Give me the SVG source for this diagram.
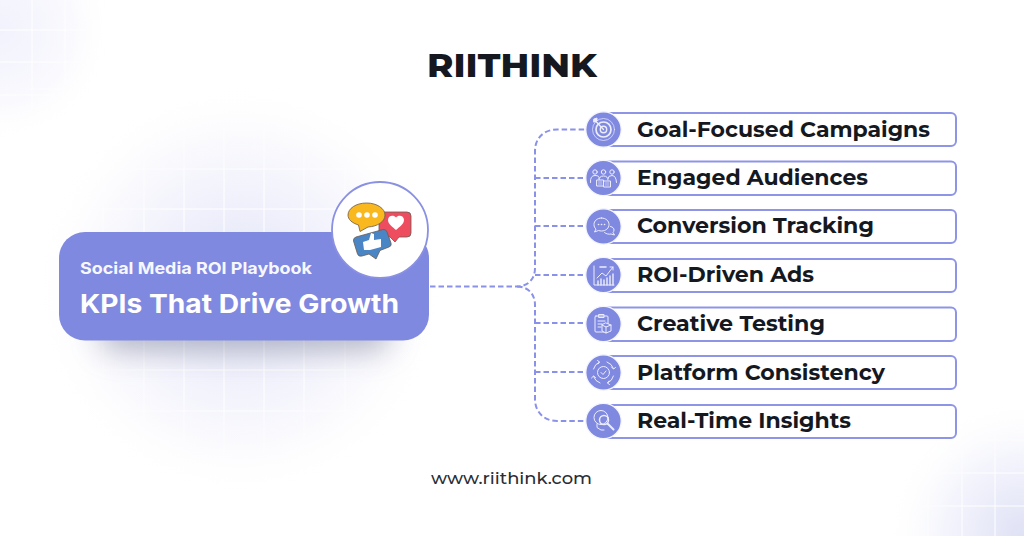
<svg xmlns="http://www.w3.org/2000/svg" width="1024" height="536" viewBox="0 0 1024 536">
<style>
.lbl{font-family:"Montserrat","Inter","Liberation Sans",sans-serif;font-weight:700;font-size:22px;fill:#15191f}
.pill{fill:#fff;stroke:#8f95e6;stroke-width:2}
.disc{fill:#8089e0;stroke:#f4f5fd;stroke-width:1.2}
.ic{fill:none;stroke:#fff;stroke-width:1;stroke-linecap:round;stroke-linejoin:round;opacity:.85}
.dash{fill:none;stroke:#8a91e8;stroke-width:2;stroke-dasharray:5.500 3}
.grid{stroke:#fff;stroke-width:1;fill:none}
</style>
<defs>
<radialGradient id="g1"><stop offset="0" stop-color="#e2e4f6"/><stop offset=".4" stop-color="#eff0fb"/><stop offset=".75" stop-color="#fbfbfe"/><stop offset="1" stop-color="#fff" stop-opacity="0"/></radialGradient>
<radialGradient id="g2"><stop offset="0" stop-color="#f1f2fc"/><stop offset=".6" stop-color="#f9f9fe"/><stop offset="1" stop-color="#fff" stop-opacity="0"/></radialGradient>
<radialGradient id="g3"><stop offset="0" stop-color="#dfe1f5"/><stop offset=".55" stop-color="#f3f4fc"/><stop offset="1" stop-color="#fff" stop-opacity="0"/></radialGradient>
<radialGradient id="fade"><stop offset="0" stop-color="#fff"/><stop offset=".55" stop-color="#fff"/><stop offset="1" stop-color="#000"/></radialGradient>
<mask id="gm" maskUnits="userSpaceOnUse" x="0" y="0" width="1024" height="536"><circle cx="240" cy="290" r="205" fill="url(#fade)"/><circle cx="1024" cy="536" r="130" fill="url(#fade)"/><circle cx="0" cy="30" r="110" fill="url(#fade)"/></mask>
<filter id="sh" x="-20%" y="-80%" width="140%" height="260%"><feGaussianBlur stdDeviation="15"/></filter>
</defs>
<rect width="1024" height="536" fill="#fff"/>
<circle cx="0" cy="30" r="115" fill="url(#g2)"/>
<circle cx="1024" cy="536" r="140" fill="url(#g3)"/>
<circle cx="240" cy="290" r="210" fill="url(#g1)"/>
<g class="grid" mask="url(#gm)">
<path d="M63 90V500M103 90V500M144 90V500M184 90V500M224 90V500M264 90V500M304 90V500M345 90V500M385 90V500M425 90V500"/>
<path d="M30 89H460M30 129H460M30 169H460M30 209H460M30 370H460M30 411H460M30 451H460M30 491H460"/>
<path d="M928 400V536M962 400V536M995 400V536M880 440H1024M880 473H1024M880 506H1024"/>
<path d="M32 0V130M65 0V130M0 62H110M0 95H110M0 30H110"/>
</g>
<rect x="100" y="310" width="290" height="40" rx="16" fill="#70748f" opacity=".5" filter="url(#sh)"/>

<g id="connectors">
<path class="dash" d="M430 286.500H517C528 286.500 535 279 535 268V151C535 138 544 129.500 557 129.500H586"/>
<path class="dash" d="M517 286.500C528 286.500 535 294 535 305V399C535 412 544 421 557 421H586"/>
<path class="dash" d="M535 178H586M535 226H586M535 275H586M535 323H586M535 372H586"/>
</g>

<g id="hub">
<rect x="59" y="232" width="370" height="108.500" rx="26" fill="#8089e0"/>
<text x="80" y="274" font-family="Inter,'Liberation Sans',sans-serif" font-weight="700" font-size="16.500" fill="#f7f8ff" textLength="232" lengthAdjust="spacingAndGlyphs">Social Media ROI Playbook</text>
<text x="80" y="312.500" font-family="Inter,'Liberation Sans',sans-serif" font-weight="700" font-size="26" fill="#fff" textLength="319" lengthAdjust="spacingAndGlyphs">KPIs That Drive Growth</text>
<circle cx="380" cy="230" r="48" fill="#fff" stroke="#8a90e2" stroke-width="1.800"/>
<g stroke="#6b5a50" stroke-width=".8" stroke-linejoin="round">
<path d="M382 212H407Q411 212 411 216V233Q411 237 407 237H399L395 242L390 237H383Q379 237 379 233V216Q379 212 382 212Z" fill="#ee4d60"/>
<path d="M396 217.500c-2-3-8-2.500-8 2.500 0 4.500 5 7 8 10 3-3 8-5.500 8-10 0-5-6-5.500-8-2.500z" fill="#fff" stroke="none"/>
<path d="M366.500 203C377 203 385 208.500 385 215C385 222 377 226.500 368 227L360 231.500L358.500 225C352 223 348 219.500 348 215C348 208.500 356 203 366.500 203Z" fill="#f9b81e"/>
<path d="M356 237L383 229.500Q386 229 387 232L391 243Q392 246 389 247L380 250.500L376 259L369 254L362 256Q358.500 257 357.500 254L353.500 241Q353 238 356 237Z" fill="#4a86c5"/>
</g>
<circle cx="359" cy="215" r="2.800" fill="#fff"/><circle cx="367" cy="215" r="2.800" fill="#fff"/><circle cx="375" cy="215" r="2.800" fill="#fff"/>
<path d="M364 250L363 242L369 240L371 233L374 234L374 240L381 239L381 247L370 250Z" fill="#fff"/>
</g>

<g id="node1"><rect class="pill" x="598" y="113" width="358" height="33" rx="5"/><circle class="disc" cx="603.500" cy="129.500" r="17.700"/>
<g class="ic"><circle cx="603.500" cy="129.500" r="11" stroke-width=".7"/><circle cx="603.500" cy="129.500" r="7.500" stroke-width="1.700"/><circle cx="603.500" cy="129.500" r="3.200" stroke-width="1.400"/><path d="M603.500 129.500L596 121.500" stroke-width="1.300"/><path d="M594 122l3-1 0-3-3 1z" fill="#fff"/></g>
<text class="lbl" x="637" y="136.500" textLength="293" lengthAdjust="spacingAndGlyphs">Goal-Focused Campaigns</text></g>

<g id="node2"><rect class="pill" x="598" y="161.500" width="358" height="33.500" rx="5"/><circle class="disc" cx="603.500" cy="178" r="17.700"/>
<g class="ic"><circle cx="595" cy="172" r="2.200"/><circle cx="603.500" cy="172" r="2.200"/><circle cx="612" cy="172" r="2.200"/><path d="M590.500 182.500q-.5-7 4.500-7t4 3M599 180q0-4 4.500-4t4.500 4M608 178.500q0-3 4-3t4.500 7"/><rect x="597" y="180" width="6.500" height="6" fill="#8089e0"/><rect x="604" y="181" width="6.500" height="6" fill="#8089e0"/><path d="M598.500 182h3.500M598.500 184h3.500M605.500 183h3.500M605.500 185h3.500" stroke-width=".7"/></g>
<text class="lbl" x="637" y="185" textLength="231" lengthAdjust="spacingAndGlyphs">Engaged Audiences</text></g>

<g id="node3"><rect class="pill" x="598" y="210" width="358" height="33" rx="5"/><circle class="disc" cx="603.500" cy="226.500" r="17.700"/>
<g class="ic"><path d="M601.500 218c-4.500 0-7.500 3-7.500 6.500 0 2 .8 3.500 2 4.500l-1.500 3 4-1.500c1 .3 2 .5 3 .5 4.500 0 7.500-3 7.500-6.500s-3-6.500-7.500-6.500z"/><path d="M610.500 226.500c2.500.5 3.500 2 3.500 3.500 0 1-.5 2-1 2.500l1.500 2.500-3.500-1c-2 .5-5 0-6.500-1.500"/><path d="M598.500 224.500h.1M601.500 224.500h.1M604.500 224.500h.1" stroke-width="1.600"/></g>
<text class="lbl" x="637" y="233" textLength="237" lengthAdjust="spacingAndGlyphs">Conversion Tracking</text></g>

<g id="node4"><rect class="pill" x="598" y="259" width="358" height="33" rx="5"/><circle class="disc" cx="603.500" cy="275" r="17.700"/>
<g class="ic"><path d="M594 266V285H614"/><path d="M597 278L602 273L606 276L613 267M610 267h3v3"/><path d="M598 285V281M601 285V279M604 285V280M607 285V278M610 285V276M613 285V274" stroke-width="1.400"/><path d="M600 267h6" stroke-width="1.500"/></g>
<text class="lbl" x="637" y="282" textLength="177" lengthAdjust="spacingAndGlyphs">ROI-Driven Ads</text></g>

<g id="node5"><rect class="pill" x="598" y="307.500" width="358" height="33.500" rx="5"/><circle class="disc" cx="603.500" cy="324" r="17.700"/>
<g class="ic"><rect x="595" y="316" width="13" height="16" rx="1"/><rect x="599" y="314.500" width="5" height="3"/><path d="M598 321h7M598 324h4M598 327h3"/><path d="M606 323l5 2 0 6-5 2-4-2 0-6z" fill="#8089e0"/><path d="M602 325l4 2 5-2M606 327v6"/></g>
<text class="lbl" x="637" y="330.500" textLength="188" lengthAdjust="spacingAndGlyphs">Creative Testing</text></g>

<g id="node6"><rect class="pill" x="598" y="356" width="358" height="33" rx="5"/><circle class="disc" cx="603.500" cy="372.500" r="17.700"/>
<g class="ic" stroke-width="1.200"><circle cx="603.500" cy="372.500" r="6"/><path d="M601 372.500l2 2 3-3.500"/><path d="M593.500 369a10.500 10.500 0 0 1 6-7M607 362a10.500 10.500 0 0 1 6.500 6.500M613.500 376a10.500 10.500 0 0 1-6 7M600 383a10.500 10.500 0 0 1-6.500-6.500"/><path d="M597.500 360.500l2 1.500-1.500 2M611.500 367l2 2 2-1.500M609.500 384.500l-2-1.500 1.500-2M591.500 378l2-2 2 1.500"/></g>
<text class="lbl" x="637" y="379.500" textLength="248" lengthAdjust="spacingAndGlyphs">Platform Consistency</text></g>

<g id="node7"><rect class="pill" x="598" y="405" width="358" height="33" rx="5"/><circle class="disc" cx="603.500" cy="421" r="17.700"/>
<g class="ic" opacity=".7"><circle cx="601" cy="417.500" r="7"/><circle cx="604" cy="420" r="4.500" stroke-width="1.500"/><path d="M607.500 423.500L613.500 429.500" stroke-width="2"/><path d="M597 424v3.500l4 2.500h3"/></g>
<text class="lbl" x="637" y="428" textLength="214" lengthAdjust="spacingAndGlyphs">Real-Time Insights</text></g>

<text x="427" y="76.500" font-family="Montserrat,Inter,'Liberation Sans',sans-serif" font-weight="800" font-size="33" fill="#15191f" textLength="170" lengthAdjust="spacingAndGlyphs">RIITHINK</text>
<text x="431" y="483.500" font-family="Montserrat,Inter,'Liberation Sans',sans-serif" font-weight="500" font-size="17" fill="#2a2d33" textLength="161" lengthAdjust="spacingAndGlyphs">www.riithink.com</text>
</svg>
